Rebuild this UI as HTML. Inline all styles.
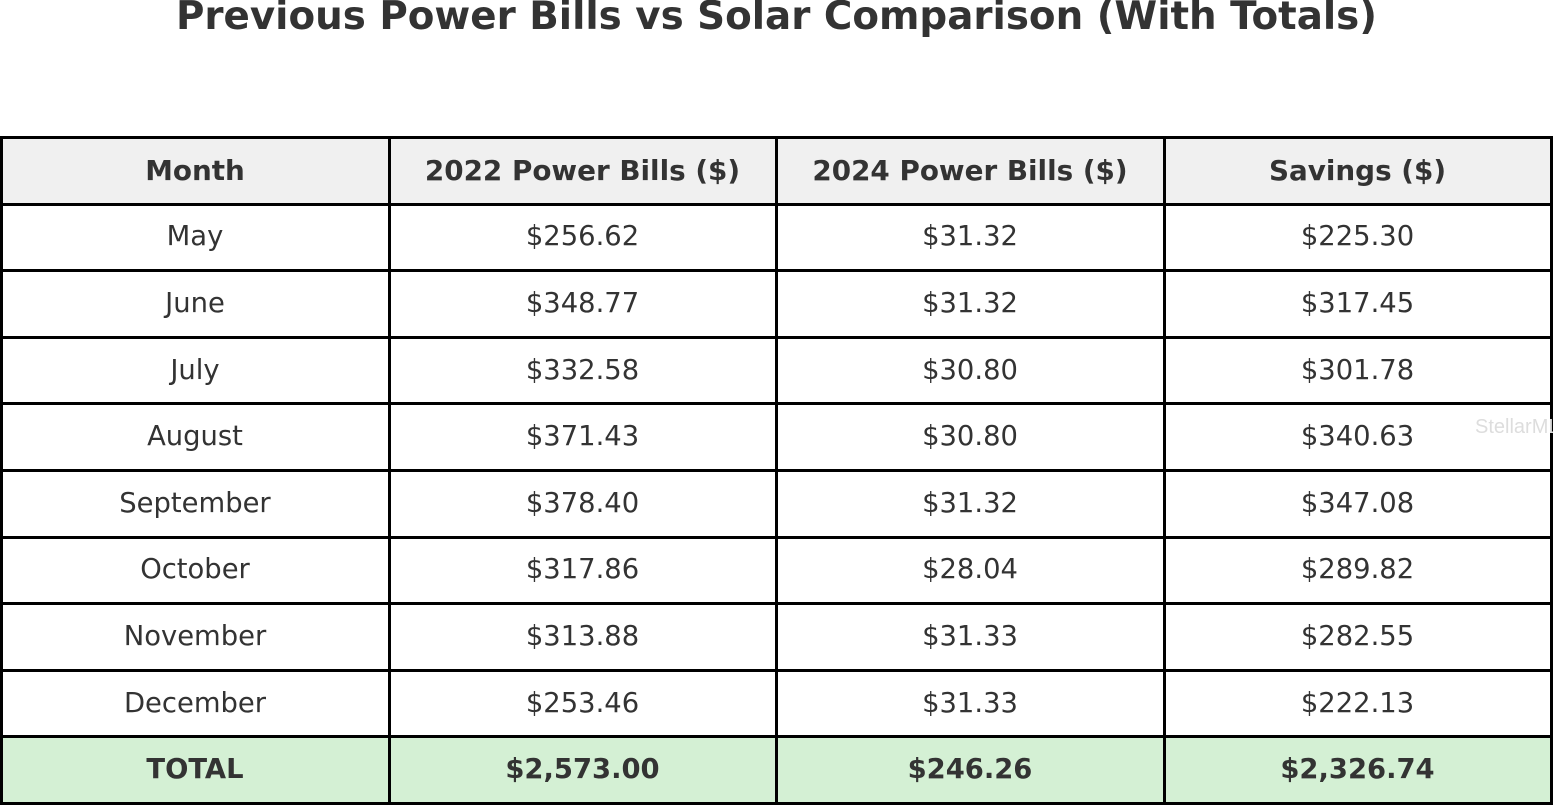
<!DOCTYPE html>
<html><head><meta charset="utf-8">
<style>
body{margin:0;width:1553px;height:805px;background:#fff;position:relative;overflow:hidden;font-family:"DejaVu Sans","Liberation Sans",sans-serif;color:#333}
#title{position:absolute;left:0;width:1553px;top:-7px;text-align:center;font-weight:bold;font-size:38.8px;line-height:48px}
.cell{position:absolute;box-sizing:border-box;display:flex;align-items:center;justify-content:center;font-size:27.4px}
.hl{position:absolute;background:#000}
#wm{position:absolute;left:1475px;top:416px;font-size:20px;color:#ddd;font-family:"Liberation Sans",sans-serif;white-space:nowrap}
</style></head><body>
<div id="title">Previous Power Bills vs Solar Comparison (With Totals)</div>
<div id="tbl"></div>
<div id="wm">StellarMLS</div>
<script>
const headers=["Month","2022 Power Bills ($)","2024 Power Bills ($)","Savings ($)"];
const months=["May","June","July","August","September","October","November","December"];
const bills2022=["$256.62","$348.77","$332.58","$371.43","$378.40","$317.86","$313.88","$253.46"];
const bills2024=["$31.32","$31.32","$30.80","$30.80","$31.32","$28.04","$31.33","$31.33"];
const savings=["$225.30","$317.45","$301.78","$340.63","$347.08","$289.82","$282.55","$222.13"];
const totals=["TOTAL","$2,573.00","$246.26","$2,326.74"];
const colX=[1,389,776,1164,1551];
const top0=137,rowH=66.6;
const tbl=document.getElementById('tbl');
const rows=[headers];
for(let i=0;i<months.length;i++)rows.push([months[i],bills2022[i],bills2024[i],savings[i]]);
rows.push(totals);
rows.forEach((r,ri)=>{
  r.forEach((t,ci)=>{
    const d=document.createElement('div');
    d.className='cell';
    
    
    d.style.left=colX[ci]+'px';d.style.width=(colX[ci+1]-colX[ci])+'px';
    d.style.top=(top0+ri*rowH)+'px';d.style.height=rowH+'px';
    if(ri===0){d.style.background='#f0f0f0';d.style.fontWeight='bold';d.style.fontSize='27.8px';}
    if(ri===rows.length-1){d.style.background='#d4f0d4';d.style.fontWeight='bold';}
    d.textContent=t;
    tbl.appendChild(d);
  });
});
for(let ri=0;ri<=rows.length;ri++){
  const l=document.createElement('div');l.className='hl';
  
  
  l.style.left='0px';l.style.width='1553px';l.style.top=(Math.round(top0+ri*rowH)-1)+'px';l.style.height='2.5px';
  tbl.appendChild(l);
}
colX.forEach(x=>{
  const l=document.createElement('div');l.className='hl';
  
  
  l.style.left=(x-1)+'px';l.style.width='2.5px';l.style.top=(top0-1)+'px';l.style.height=(rows.length*rowH+2)+'px';
  tbl.appendChild(l);
});
</script>
</body></html>
